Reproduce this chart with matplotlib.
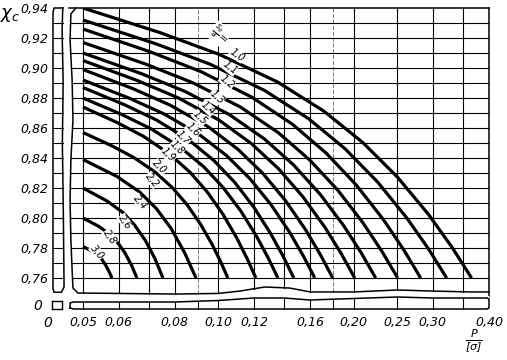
import numpy as np
import matplotlib
matplotlib.use('Agg')
import matplotlib.pyplot as plt

plt.rcParams['font.family'] = 'DejaVu Sans'
plt.rcParams['font.style'] = 'italic'
plt.rcParams['mathtext.fontset'] = 'dejavusans'

# DATA: chi_c against P/[sigma] for each s_p/a
curve_labels = ['1,0', '1,1', '1,2', '1,3', '1,4', '1,5', '1,6', '1,7',
                '1,8', '1,9', '2,0', '2,2', '2,4', '2,6', '2,8', '3,0']
curve_x = [
    [0.050, 0.07445, 0.10035, 0.1353, 0.17176, 0.20959, 0.25071, 0.29398, 0.33127, 0.3658],
    [0.050, 0.07257, 0.09596, 0.1269, 0.15867, 0.19115, 0.22603, 0.26235, 0.29337, 0.3220],
    [0.050, 0.07066, 0.09159, 0.1187, 0.14610, 0.17369, 0.20294, 0.23306, 0.25854, 0.2819],
    [0.050, 0.06902, 0.08790, 0.1119, 0.13582, 0.15958, 0.18449, 0.20988, 0.23119, 0.2506],
    [0.050, 0.06748, 0.08450, 0.1058, 0.12667, 0.14715, 0.16841, 0.18987, 0.20774, 0.2239],
    [0.050, 0.06605, 0.08138, 0.1003, 0.11850, 0.13620, 0.15437, 0.17255, 0.18758, 0.2011],
    [0.050, 0.06458, 0.07824, 0.0948, 0.11051, 0.12559, 0.14092, 0.15611, 0.16856, 0.1797],
    [0.050, 0.06340, 0.07576, 0.0905, 0.10438, 0.11754, 0.13079, 0.14382, 0.15443, 0.1639],
    [0.050, 0.06205, 0.07296, 0.0858, 0.09765, 0.10879, 0.11989, 0.13070, 0.13945, 0.1472],
    [0.050, 0.06104, 0.07090, 0.0823, 0.09282, 0.10256, 0.11219, 0.12151, 0.12901, 0.1357],
    [0.050, 0.05968, 0.06816, 0.0778, 0.08656, 0.09457, 0.10242, 0.10993, 0.11593, 0.1212],
    [0.050, 0.05800, 0.06483, 0.0725, 0.07920, 0.08530, 0.09119, 0.09677, 0.10118, 0.1050],
    [0.050, 0.0595, 0.0668, 0.0728, 0.0785, 0.0841, 0.0892],
    [0.050, 0.0565, 0.0614, 0.0652, 0.0688, 0.0723, 0.0753],
    [0.050, 0.0543, 0.0574, 0.0598, 0.0620, 0.0641, 0.0659],
    [0.050, 0.0523, 0.0539, 0.0551, 0.0561, 0.0571, 0.0580],
]
curve_y = [
    [0.940, 0.92344, 0.90913, 0.89075, 0.87120, 0.85032, 0.82703, 0.80207, 0.78032, 0.760],
    [0.932, 0.91618, 0.90250, 0.88494, 0.86626, 0.84631, 0.82405, 0.80020, 0.77942, 0.760],
    [0.926, 0.91073, 0.89753, 0.88058, 0.86255, 0.84330, 0.82182, 0.79879, 0.77874, 0.760],
    [0.917, 0.90256, 0.89007, 0.87404, 0.85699, 0.83878, 0.81847, 0.79669, 0.77773, 0.760],
    [0.910, 0.89620, 0.88427, 0.86896, 0.85267, 0.83527, 0.81586, 0.79505, 0.77693, 0.760],
    [0.905, 0.89166, 0.88013, 0.86533, 0.84958, 0.83276, 0.81400, 0.79389, 0.77637, 0.760],
    [0.899, 0.88621, 0.87516, 0.86097, 0.84587, 0.82975, 0.81176, 0.79248, 0.77569, 0.760],
    [0.892, 0.87986, 0.86936, 0.85588, 0.84155, 0.82624, 0.80916, 0.79085, 0.77490, 0.760],
    [0.887, 0.87532, 0.86522, 0.85225, 0.83846, 0.82373, 0.80729, 0.78968, 0.77434, 0.760],
    [0.880, 0.86896, 0.85942, 0.84717, 0.83414, 0.82022, 0.80469, 0.78804, 0.77355, 0.760],
    [0.874, 0.86351, 0.85445, 0.84281, 0.83043, 0.81720, 0.80245, 0.78664, 0.77287, 0.760],
    [0.857, 0.84808, 0.84036, 0.83046, 0.81993, 0.80867, 0.79612, 0.78267, 0.77095, 0.760],
    [0.839, 0.8277, 0.8174, 0.8063, 0.7931, 0.7770, 0.760],
    [0.820, 0.8114, 0.8036, 0.7951, 0.7851, 0.7729, 0.760],
    [0.800, 0.7943, 0.7891, 0.7834, 0.7767, 0.7686, 0.760],
    [0.781, 0.7780, 0.7753, 0.7723, 0.7688, 0.7645, 0.760],
]
# where the curve labels are written and their slant
label_x = [0.110, 0.106, 0.1045, 0.0993, 0.0948, 0.0910, 0.0878, 0.0834,
           0.0809, 0.0772, 0.0741, 0.0712, 0.0669, 0.0620, 0.0574, 0.0537]
label_y = [0.9087, 0.900, 0.8907, 0.8807, 0.8733, 0.8667, 0.8587, 0.8533,
           0.8467, 0.842, 0.834, 0.8253, 0.8107, 0.7973, 0.7873, 0.7773]
label_rot = [-35, -38, -40, -42, -42, -45, -45, -45,
             -45, -45, -45, -50, -50, -55, -55, -50]

# AXIS TICKS
x_ticks = [0.05, 0.06, 0.08, 0.10, 0.12, 0.16, 0.20, 0.25, 0.30, 0.40]
x_ticklabels = ['0,05', '0,06', '0,08', '0,10', '0,12', '0,16', '0,20', '0,25', '0,30', '0,40']
y_ticks = [0.76, 0.78, 0.80, 0.82, 0.84, 0.86, 0.88, 0.90, 0.92, 0.94]
y_ticklabels = ['0,76', '0,78', '0,80', '0,82', '0,84', '0,86', '0,88', '0,90', '0,92', '0,94']
vgrid_x = [0.05, 0.06, 0.07, 0.08, 0.09, 0.10, 0.12, 0.14, 0.16, 0.18, 0.20, 0.25, 0.30, 0.35]
faint_x = [0.09, 0.18]
hgrid_y = [0.76, 0.77, 0.78, 0.79, 0.80, 0.81, 0.82, 0.83, 0.84, 0.85, 0.86,
           0.87, 0.88, 0.89, 0.90, 0.91, 0.92, 0.93]

# broken-axis outlines (hand drawn wavy edges)
wave_x = [0.0482, 0.0470, 0.0468, 0.0473, 0.0475, 0.0470, 0.0468, 0.0470,
          0.0473, 0.0475, 0.0487, 0.060, 0.080, 0.100, 0.1117, 0.1269, 0.1442,
          0.160, 0.200, 0.250, 0.300, 0.3622, 0.400]
wave_y = [0.940, 0.936, 0.9187, 0.892, 0.8653, 0.8387, 0.812, 0.7853,
          0.7653, 0.7533, 0.750, 0.7497, 0.7493, 0.7497, 0.7513, 0.754, 0.7533,
          0.7507, 0.7507, 0.752, 0.7513, 0.7507, 0.7507]
strip_x = [0.0468, 0.0468, 0.0476, 0.060, 0.080, 0.100, 0.120, 0.140, 0.160,
           0.200, 0.250, 0.300, 0.360, 0.396, 0.400, 0.400, 0.396, 0.0476, 0.0468]
strip_y = [2, 7, 8, 8, 8, 9.5, 12, 12, 10, 11.5, 13, 12, 12, 12, 11, 2, 1, 1, 2]
lstrip_x = [0.75, 0.08, 0.0, 0.0, 0.08, 0.65, 0.85, 0.80, 0.72, 0.78, 0.70, 0.75]
lstrip_y = [0.940, 0.940, 0.937, 0.753, 0.7505, 0.7505, 0.754, 0.80, 0.85, 0.89, 0.925, 0.940]

W, H = 507., 360.
fig = plt.figure(figsize=(5.07, 3.6), dpi=100)

# MAIN PANEL
ax = fig.add_axes([68.8/W, 1-296/H, 420.2/W, 288/H])
ax.set_xscale('log')
ax.set_xlim(0.0465, 0.40)
ax.set_ylim(0.748, 0.94)
ax.set_xticks([], minor=True)
ax.set_xticks([])
ax.set_yticks([])
for s in ['left', 'bottom']:
    ax.spines[s].set_visible(False)
for s in ['top', 'right']:
    ax.spines[s].set_linewidth(1.1)

lwx = np.log(wave_x)
for x in vgrid_x:
    ybot = np.interp(np.log(x), lwx[10:], wave_y[10:])
    if x in faint_x:
        ax.plot([x, x], [ybot, 0.94], color='0.4', lw=0.6, ls=(0, (5, 2)))
    else:
        ax.plot([x, x], [ybot, 0.94], color='k', lw=0.8)
for y in hgrid_y:
    xl = np.exp(np.interp(y, wave_y[9::-1], lwx[9::-1]))
    ax.plot([xl, 0.40], [y, y], color='k', lw=0.8)
ax.plot(wave_x, wave_y, color='k', lw=1.1, clip_on=False)

for cx, cy in zip(curve_x, curve_y):
    ax.plot(cx, cy, color='k', lw=2.3, solid_capstyle='butt',
            solid_joinstyle='round', zorder=3)

for lab, lx, ly, rot in zip(curve_labels, label_x, label_y, label_rot):
    ax.text(lx, ly, lab, fontsize=7, rotation=rot, ha='center', va='center',
            rotation_mode='anchor', zorder=4,
            bbox=dict(facecolor='white', edgecolor='none', pad=0.1))
ax.text(0.1005, 0.9225, r'$\frac{s_p}{a}$=', fontsize=8, rotation=-40,
        ha='center', va='center', rotation_mode='anchor', zorder=4,
        bbox=dict(facecolor='white', edgecolor='none', pad=0.1))

# LEFT STRIP (x = 0)
ls = fig.add_axes([53/W, 1-296/H, 13/W, 288/H])
ls.set_xlim(0, 1)
ls.set_ylim(0.748, 0.94)
for s in ls.spines.values():
    s.set_visible(False)
ls.plot(lstrip_x, lstrip_y, color='k', lw=1.1, clip_on=False)
for y in hgrid_y:
    ls.plot([0, 0.75], [y, y], color='k', lw=0.8)
ls.set_xticks([])
ls.set_yticks(y_ticks)
ls.set_yticklabels(y_ticklabels)
ls.tick_params(axis='y', length=0, pad=3, labelsize=9)

# BOTTOM STRIP (chi_c = 0)
bs = fig.add_axes([68.8/W, 1-310/H, 420.2/W, 14/H])
bs.set_xscale('log')
bs.set_xlim(0.0465, 0.40)
bs.set_ylim(0, 14)
for s in bs.spines.values():
    s.set_visible(False)
bs.plot(strip_x, strip_y, color='k', lw=1.1, clip_on=False)
lsx = np.log(strip_x[2:15])
for x in vgrid_x:
    ytop = np.interp(np.log(x), lsx, strip_y[2:15])
    bs.plot([x, x], [1, ytop], color='k', lw=0.8)
bs.set_xticks([], minor=True)
bs.set_xticks(x_ticks)
bs.set_xticklabels(x_ticklabels)
bs.set_yticks([])
bs.tick_params(axis='x', length=0, pad=4, labelsize=9)

# corner box
cb = fig.add_axes([52/W, 1-309/H, 10/W, 8/H])
cb.set_xticks([])
cb.set_yticks([])
for s in cb.spines.values():
    s.set_linewidth(1.0)

# AXIS NAMES
fig.text(38/W, 1-306/H, '0', ha='center', va='center', fontsize=10)
fig.text(48/W, 1-323/H, '0', ha='center', va='center', fontsize=10)
fig.text(10/W, 1-15/H, r'$\chi_c$', ha='center', va='center', fontsize=13)
fig.text(474/W, 1-341/H, r'$\frac{P}{[\sigma]}$', ha='center', va='center', fontsize=11.5)

fig.savefig('out.png', dpi=100)
